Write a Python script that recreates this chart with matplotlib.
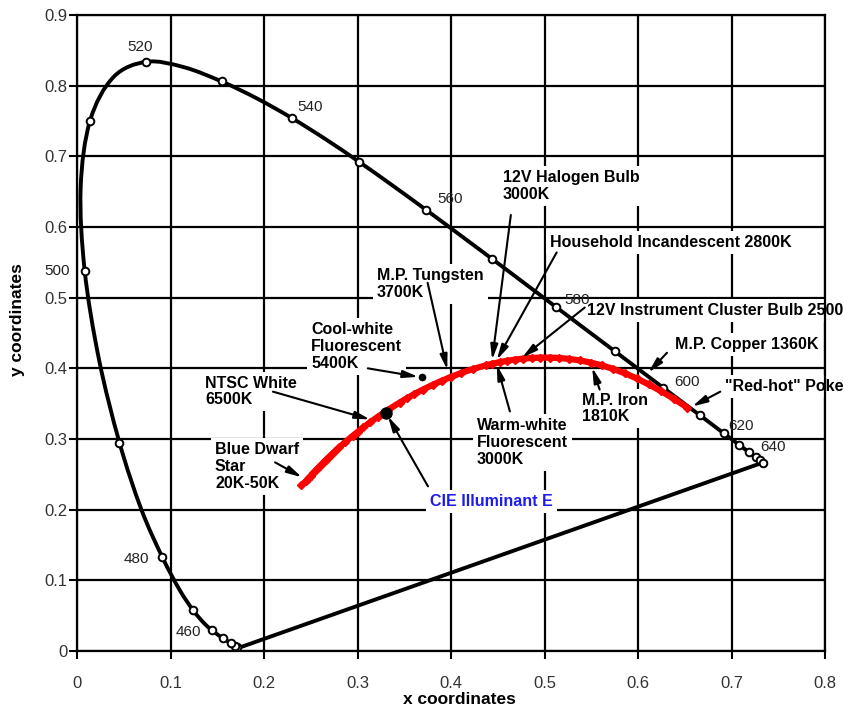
import matplotlib
matplotlib.use("Agg")
import matplotlib.pyplot as plt
from matplotlib.path import Path
from matplotlib.patches import PathPatch

plt.rcParams["font.family"] = ["Liberation Sans", "DejaVu Sans"]

# CIE 1931 spectral locus (5 nm steps)
wavelength_nm = [380, 385, 390, 395, 400, 405, 410, 415, 420, 425, 430, 435, 440, 445,
                 450, 455, 460, 465, 470, 475, 480, 485, 490, 495, 500, 505, 510, 515,
                 520, 525, 530, 535, 540, 545, 550, 555, 560, 565, 570, 575, 580, 585,
                 590, 595, 600, 605, 610, 615, 620, 625, 630, 635, 640, 645, 650, 655,
                 660, 665, 670, 675, 680]
locus_x = [0.1741, 0.1740, 0.1738, 0.1736, 0.1733, 0.1730, 0.1726, 0.1721, 0.1714, 0.1703,
           0.1689, 0.1669, 0.1644, 0.1611, 0.1566, 0.1510, 0.1440, 0.1355, 0.1241, 0.1096,
           0.0913, 0.0687, 0.0454, 0.0235, 0.0082, 0.0039, 0.0139, 0.0389, 0.0743, 0.1142,
           0.1547, 0.1929, 0.2296, 0.2658, 0.3016, 0.3373, 0.3731, 0.4087, 0.4441, 0.4788,
           0.5125, 0.5448, 0.5752, 0.6029, 0.6270, 0.6482, 0.6658, 0.6801, 0.6915, 0.7006,
           0.7079, 0.7140, 0.7190, 0.7230, 0.7260, 0.7283, 0.7300, 0.7311, 0.7320, 0.7327,
           0.7334]
locus_y = [0.0050, 0.0050, 0.0049, 0.0049, 0.0048, 0.0048, 0.0048, 0.0048, 0.0051, 0.0058,
           0.0069, 0.0086, 0.0109, 0.0138, 0.0177, 0.0227, 0.0297, 0.0399, 0.0578, 0.0868,
           0.1327, 0.2007, 0.2950, 0.4127, 0.5384, 0.6548, 0.7502, 0.8120, 0.8338, 0.8262,
           0.8059, 0.7816, 0.7543, 0.7243, 0.6923, 0.6589, 0.6245, 0.5896, 0.5547, 0.5202,
           0.4866, 0.4544, 0.4242, 0.3965, 0.3725, 0.3514, 0.3340, 0.3197, 0.3083, 0.2993,
           0.2920, 0.2859, 0.2809, 0.2770, 0.2740, 0.2717, 0.2700, 0.2689, 0.2680, 0.2673,
           0.2666]
marked_nm = [420, 430, 440, 450, 460, 470, 480, 490, 500, 510, 520, 530, 540, 550, 560,
             570, 580, 590, 600, 610, 620, 630, 640, 650, 660, 680]

# Planckian locus (blackbody), 1000 K .. infinity
planck_T = [1000, 1100, 1200, 1300, 1400, 1500, 1600, 1700, 1800, 1900, 2000, 2100, 2200,
            2300, 2400, 2500, 2600, 2700, 2800, 2900, 3000, 3200, 3400, 3600, 3800, 4000,
            4250, 4500, 4750, 5000, 5500, 6000, 6500, 7000, 7500, 8000, 9000, 10000, 11000,
            12000, 13000, 14000, 15000, 17500, 20000, 25000, 30000, 40000, 50000, 1e9]
planck_x = [0.6528, 0.6388, 0.6251, 0.6115, 0.5985, 0.5857, 0.5732, 0.5611, 0.5492, 0.5378,
            0.5267, 0.5160, 0.5056, 0.4957, 0.4862, 0.4770, 0.4682, 0.4599, 0.4519, 0.4442,
            0.4369, 0.4234, 0.4110, 0.4000, 0.3899, 0.3804, 0.3700, 0.3608, 0.3525, 0.3451,
            0.3325, 0.3221, 0.3135, 0.3064, 0.3004, 0.2952, 0.2869, 0.2807, 0.2759, 0.2719,
            0.2686, 0.2659, 0.2637, 0.2594, 0.2565, 0.2525, 0.2499, 0.2468, 0.2448, 0.2399]
planck_y = [0.3444, 0.3565, 0.3674, 0.3772, 0.3858, 0.3931, 0.3993, 0.4043, 0.4082, 0.4112,
            0.4133, 0.4146, 0.4152, 0.4152, 0.4147, 0.4137, 0.4123, 0.4106, 0.4087, 0.4065,
            0.4041, 0.3990, 0.3935, 0.3879, 0.3823, 0.3767, 0.3700, 0.3636, 0.3575, 0.3516,
            0.3411, 0.3318, 0.3236, 0.3166, 0.3103, 0.3048, 0.2956, 0.2884, 0.2826, 0.2776,
            0.2735, 0.2700, 0.2671, 0.2612, 0.2573, 0.2518, 0.2479, 0.2436, 0.2404, 0.2342]

# special points
illum_E = (0.330, 0.337)
cool_white = (0.369, 0.388)

ticks_x = [0, 0.1, 0.2, 0.3, 0.4, 0.5, 0.6, 0.7, 0.8]
ticks_y = [0, 0.1, 0.2, 0.3, 0.4, 0.5, 0.6, 0.7, 0.8, 0.9]

# wavelength labels: text, x, y
wl_labels = [("520", 0.067, 0.855), ("540", 0.249, 0.770), ("560", 0.399, 0.640),
             ("580", 0.535, 0.497), ("600", 0.652, 0.380), ("620", 0.710, 0.318),
             ("640", 0.744, 0.288), ("500", -0.021, 0.538), ("480", 0.064, 0.130),
             ("460", 0.119, 0.027)]

# annotations: text, text pos (left, centre), arrow start, arrow tip, colour
notes = [
    ("12V Halogen Bulb\n3000K", (0.4556, 0.6582), (0.464, 0.617), (0.444, 0.412), "black"),
    ("Household Incandescent 2800K", (0.5059, 0.5777), (0.513, 0.564), (0.449, 0.412), "black"),
    ("12V Instrument Cluster Bulb 2500", (0.5455, 0.4816), (0.543, 0.486), (0.476, 0.415), "black"),
    ("M.P. Tungsten\n3700K", (0.3209, 0.5198), (0.375, 0.521), (0.396, 0.398), "black"),
    ("Cool-white\nFluorescent\n5400K", (0.2503, 0.4308), (0.311, 0.400), (0.365, 0.388), "black"),
    ("NTSC White\n6500K", (0.1369, 0.3672), (0.2096, 0.367), (0.3134, 0.3277), "black"),
    ("Blue Dwarf\nStar\n20K-50K", (0.1476, 0.2613), (0.2118, 0.267), (0.2406, 0.2458), "black"),
    ("CIE Illuminant E", (0.3775, 0.2119), (0.3754, 0.233), (0.3326, 0.332), "#1c1cf0"),
    ("Warm-white\nFluorescent\n3000K", (0.4278, 0.2952), (0.463, 0.339), (0.449, 0.405), "black"),
    ("M.P. Iron\n1810K", (0.5401, 0.3432), (0.559, 0.370), (0.551, 0.401), "black"),
    ("M.P. Copper 1360K", (0.6396, 0.4336), (0.631, 0.422), (0.611, 0.394), "black"),
    ("\"Red-hot\" Poke", (0.6930, 0.3743), (0.688, 0.367), (0.658, 0.346), "black"),
]


def smooth_path(xs, ys):
    # Catmull-Rom through the points, drawn as cubic Bezier segments
    pts = list(zip(xs, ys))
    verts = [pts[0]]
    codes = [Path.MOVETO]
    n = len(pts)
    for i in range(n - 1):
        p0 = pts[i - 1] if i > 0 else pts[i]
        p1, p2 = pts[i], pts[i + 1]
        p3 = pts[i + 2] if i + 2 < n else pts[i + 1]
        c1 = (p1[0] + (p2[0] - p0[0]) / 6, p1[1] + (p2[1] - p0[1]) / 6)
        c2 = (p2[0] - (p3[0] - p1[0]) / 6, p2[1] - (p3[1] - p1[1]) / 6)
        verts += [c1, c2, p2]
        codes += [Path.CURVE4] * 3
    return Path(verts, codes)


fig = plt.figure(figsize=(8.43, 7.10), dpi=100)
ax = fig.add_axes([77 / 843, 59 / 710, 748 / 843, 636 / 710])
ax.set_xlim(0, 0.8)
ax.set_ylim(0, 0.9)
ax.set_xticks(ticks_x)
ax.set_yticks(ticks_y)
ax.set_xticklabels(["0" if t == 0 else f"{t:g}" for t in ticks_x])
ax.set_yticklabels(["0" if t == 0 else f"{t:g}" for t in ticks_y])
ax.tick_params(direction="out", length=6, width=1.5, labelsize=12, labelcolor="#333333")
ax.tick_params(axis="x", pad=12)
ax.tick_params(axis="y", pad=1)
ax.grid(True, color="black", linewidth=1.6, zorder=0)
ax.set_axisbelow(True)
for s in ax.spines.values():
    s.set_linewidth(1.6)

# spectral locus + line of purples
ax.add_patch(PathPatch(smooth_path(locus_x, locus_y), facecolor="none", edgecolor="black",
                       linewidth=2.8, zorder=3))
ax.plot([locus_x[-1], locus_x[0]], [locus_y[-1], locus_y[0]], color="black", linewidth=2.8, zorder=3)
mx = [x for w, x in zip(wavelength_nm, locus_x) if w in marked_nm]
my = [y for w, y in zip(wavelength_nm, locus_y) if w in marked_nm]
ax.plot(mx, my, linestyle="none", marker="o", markersize=5.5, markerfacecolor="white",
        markeredgecolor="black", markeredgewidth=1.4, zorder=4)

for txt, x, y in wl_labels:
    ax.text(x, y, txt, ha="center", va="center", fontsize=11, color="#222222", zorder=4)

# blackbody curve
ax.plot(planck_x, planck_y, color="red", linewidth=4.5, marker="D", markersize=4.5,
        markeredgecolor="red", solid_capstyle="butt", zorder=5)

ax.plot(*illum_E, marker="o", markersize=8, color="black", zorder=7)
ax.plot(*cool_white, marker="o", markersize=4.5, color="black", zorder=7)

for txt, pos, start, tip, col in notes:
    ax.text(pos[0], pos[1], txt, ha="left", va="center", fontsize=11.5, fontweight="bold",
            color=col, linespacing=1.15, zorder=2,
            bbox=dict(boxstyle="square,pad=0.25", facecolor="white", edgecolor="none"))
    ax.annotate("", xy=tip, xytext=start,
                arrowprops=dict(arrowstyle="-|>,head_length=0.9,head_width=0.22",
                                color="black", linewidth=1.5, shrinkA=0, shrinkB=0),
                zorder=6)

fig.text(459 / 843, 1 - 700 / 710, "x coordinates", ha="center", va="center",
         fontsize=12.5, fontweight="bold")
fig.text(18 / 843, 1 - 320 / 710, "y coordinates", ha="center", va="center",
         rotation=90, fontsize=12.5, fontweight="bold")

fig.savefig("out.png", dpi=100)
